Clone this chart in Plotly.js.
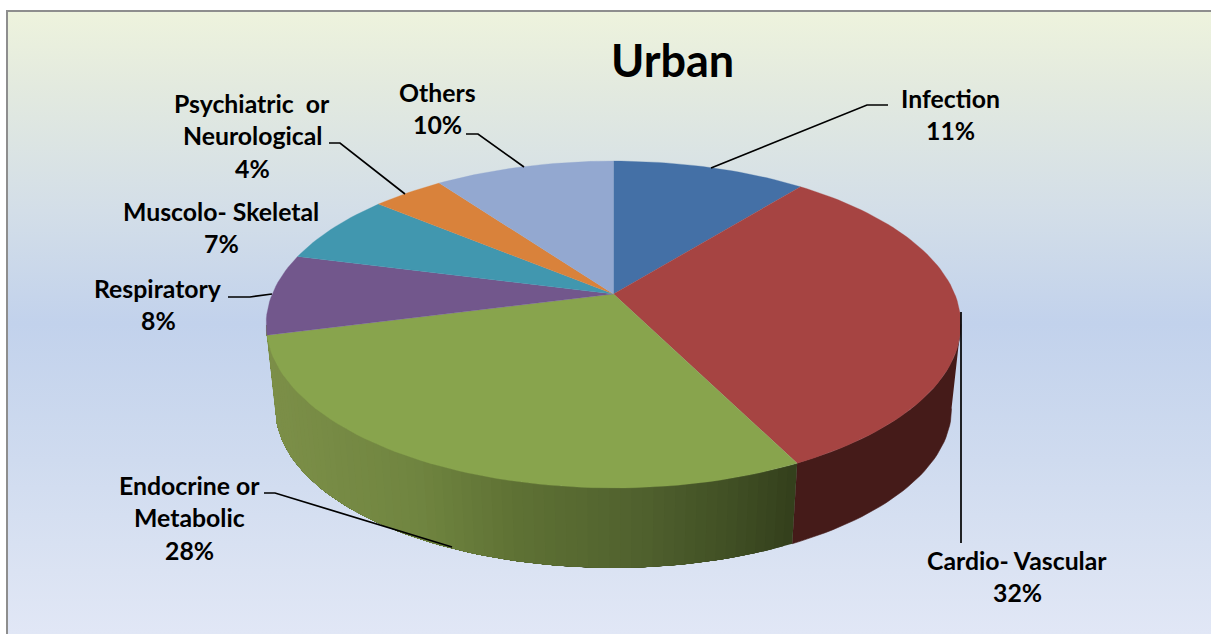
<!DOCTYPE html>
<html><head><meta charset="utf-8">
<script src="https://cdn.plot.ly/plotly-3.0.1.min.js"></script>
<style>
html,body{margin:0;padding:0;background:#fff;overflow:hidden}
#bg{position:absolute;left:6px;top:10px;width:1205px;height:624px;box-sizing:border-box;border-left:2px solid #8e8e8e;border-top:2px solid #8e8e8e;
background:linear-gradient(180deg,#eef3dd 0%,#e3eadf 12%,#d3dee8 32%,#c2d2ec 50%,#cfdbef 72%,#dbe3f3 90%,#e1e7f6 100%)}
#chart{position:absolute;left:0;top:0;width:1211px;height:634px}
</style></head><body>
<div id="bg"></div><div id="chart"></div>
<script>
const titleText = 'Urban';
const categories = ['Infection','Cardio- Vascular','Endocrine or Metabolic','Respiratory','Muscolo- Skeletal','Psychiatric  or Neurological','Others'];
const values = [10.8, 31.8, 28.4, 8, 7, 4, 10];
const labelLines = [['Infection'],['Cardio- Vascular'],['Endocrine or','Metabolic'],['Respiratory'],['Muscolo- Skeletal'],['Psychiatric  or','Neurological'],['Others']];
const topColors = ['#4470a6','#a64442','#88a44d','#72578c','#4197af','#d9823b','#93a8d0'];
const sideRed = '#451b19';

// label anchors and leader lines, in chart units
const labelCx = [950,1017,189,158,221,252,437];
const labelTopY = [98,560,485,288,211,103,92];
const lineGap = 32.5;
const leaders = [
  [[888,105],[867,105],[711,168]],
  [[961,312],[961,543]],
  [[264,493],[275,493],[452,547]],
  [[228,297],[250,297],[272,294]],
  [],
  [[329,143],[340,143],[405,194]],
  [[466,134],[478,134],[524,167]]
];

// 3-D projection of the pie's unit circle
const cx=613.5, topCy=294, botCy=379, A=341.3, B=157.8, k=0.1866, botScale=0.973;
function pt(thetaDeg, bottom){
  const t=thetaDeg*Math.PI/180, u=Math.sin(t), v=Math.cos(t), w=1+k*v;
  const s=bottom?botScale:1;
  return [cx+s*A*u/w, (bottom?botCy:topCy)-s*B*v/w];
}
function arc(a,b,bottom){
  const n=Math.max(2,Math.ceil(Math.abs(b-a)/1.5)), out=[];
  for(let i=0;i<=n;i++) out.push(pt(a+(b-a)*i/n,bottom));
  return out;
}
function poly(points,color,width){
  return {type:'scatter',mode:'lines',x:points.map(p=>p[0]),y:points.map(p=>p[1]),fill:'toself',fillcolor:color,
    line:{color:color,width:width===undefined?0.6:width},hoverinfo:'skip',showlegend:false};
}
function side(a,b,color,width){ return poly(arc(a,b,false).concat(arc(b,a,true)),color,width); }

const total=values.reduce((s,v)=>s+v,0);
const bounds=[0]; values.forEach(v=>bounds.push(bounds[bounds.length-1]+v/total*360));

const greenStops=[[275,[124,143,72]],[420,[112,133,64]],[520,[94,113,52]],[640,[80,97,46]],[730,[64,79,36]],[795,[50,62,27]]];
function greenAt(x){
  for(let i=1;i<greenStops.length;i++){
    if(x<=greenStops[i][0]){
      const f=Math.max(0,(x-greenStops[i-1][0])/(greenStops[i][0]-greenStops[i-1][0]));
      const c=greenStops[i-1][1].map((q,j)=>Math.round(q+(greenStops[i][1][j]-q)*f));
      return 'rgb('+c.join(',')+')';
    }
  }
  return 'rgb(50,62,27)';
}

const traces=[];
traces.push(side(100.7,bounds[2],sideRed));
// gradient wall: each band is painted from its start to the far end so later bands cover earlier ones with no seams
const gStart=bounds[2], gEnd=bounds[3]+3.5, strips=70;
for(let i=0;i<strips;i++){
  const a=gStart+(gEnd-gStart)*i/strips, b=gStart+(gEnd-gStart)*(i+1)/strips;
  traces.push(side(a,gEnd,greenAt(pt((a+b)/2,true)[0]),0));
}
values.forEach((v,i)=>{
  traces.push(poly([[cx,topCy]].concat(arc(bounds[i],bounds[i+1],false)),topColors[i],0.3));
});
leaders.forEach(l=>{
  if(!l.length) return;
  traces.push({type:'scatter',mode:'lines',x:l.map(p=>p[0]),y:l.map(p=>p[1]),line:{color:'#000',width:1.7},hoverinfo:'skip',showlegend:false});
});

const font={family:'Lato, sans-serif',size:24.8,color:'#000',weight:700};
const annotations=[];
categories.forEach((c,i)=>{
  const lines=labelLines[i].concat([Math.round(values[i])+'%']);
  lines.forEach((t,j)=>annotations.push({xref:'x',yref:'y',x:labelCx[i],y:labelTopY[i]+j*lineGap,text:'<b>'+t.replace(/  /g,'\u00a0 ')+'</b>',showarrow:false,font:font,xanchor:'center',yanchor:'middle'}));
});
annotations.push({xref:'x',yref:'y',x:672.5,y:60,text:'<b>'+titleText+'</b>',showarrow:false,font:{family:'Lato, sans-serif',size:45,color:'#000'},xanchor:'center',yanchor:'middle'});

Plotly.newPlot('chart',traces,{
  width:1211,height:634,margin:{l:0,r:0,t:0,b:0},
  paper_bgcolor:'rgba(0,0,0,0)',plot_bgcolor:'rgba(0,0,0,0)',showlegend:false,
  xaxis:{range:[0,1211],visible:false,fixedrange:true},
  yaxis:{range:[634,0],visible:false,fixedrange:true},
  annotations:annotations
},{displayModeBar:false,staticPlot:true});
</script></body></html>
